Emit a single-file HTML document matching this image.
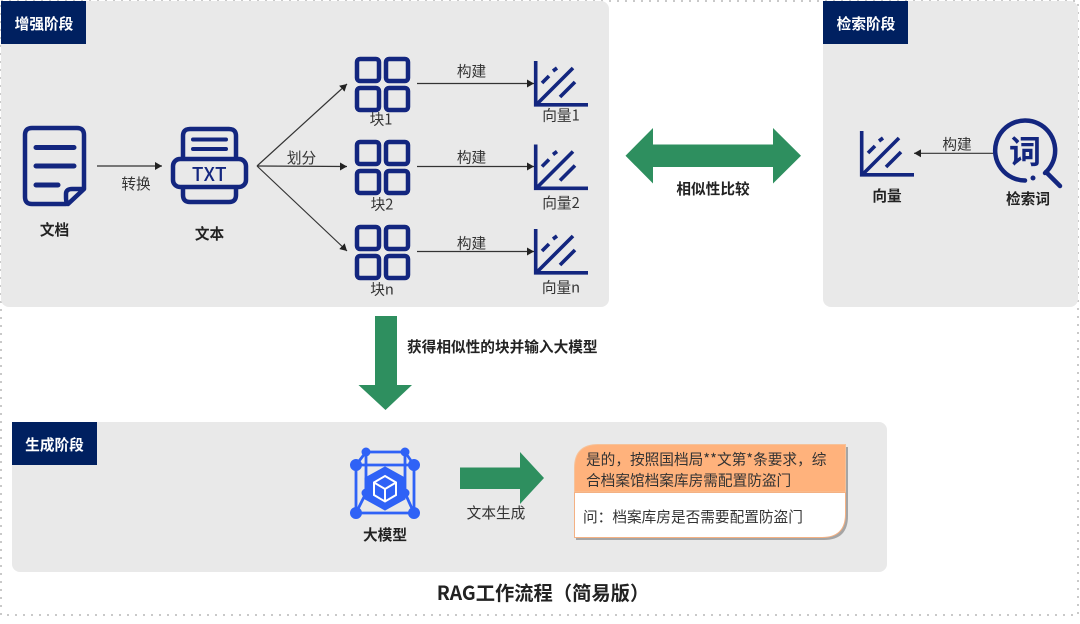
<!DOCTYPE html>
<html lang="zh"><head><meta charset="utf-8"><title>RAG工作流程</title>
<style>
html,body{margin:0;padding:0;background:#fff;width:1080px;height:624px;overflow:hidden}
svg{display:block}
text{font-family:"Noto Sans CJK SC","Liberation Sans",sans-serif;font-size:14.67px;fill:#333;text-anchor:middle}
.b{font-weight:700;fill:#222}
.h{font-weight:700;fill:#fff}
.n{fill:none;stroke:#13267f;stroke-width:4.5;stroke-linejoin:round;stroke-linecap:round}
.l{stroke:#333;stroke-width:1.2;fill:none}
.s{text-anchor:start}
</style></head><body>
<svg width="1080" height="624" viewBox="0 0 1080 624" xmlns="http://www.w3.org/2000/svg">
<defs>
<marker id="a" markerUnits="userSpaceOnUse" markerWidth="8" markerHeight="8" refX="7" refY="4" orient="auto"><path d="M0 0L7 4L0 8z" fill="#222"/></marker>
<g id="grid" class="n" stroke-width="4"><rect x="357" y="59" width="22" height="22" rx="3"/><rect x="386" y="59" width="22" height="22" rx="3"/><rect x="357" y="88" width="22" height="22" rx="3"/><rect x="386" y="88" width="22" height="22" rx="3"/></g>
<g id="vec" fill="none" stroke="#13267f" stroke-width="3.6"><path d="M535.7 61V104.8H588"/><path d="M537 104L573 68M560 97L575 82M542 83L549 76M553 71L557 68"/></g>
</defs>
<rect x="1" y="1" width="1077" height="614" fill="none" stroke="#c9c9c9" stroke-width="2" stroke-dasharray="2 6"/>

<!-- panels -->
<rect x="1" y="1" width="608" height="306" rx="8" fill="#e9e9e9"/>
<rect x="823" y="1" width="255" height="306" rx="8" fill="#e9e9e9"/>
<rect x="12" y="422" width="875" height="150" rx="8" fill="#e9e9e9"/>
<rect x="1" y="1" width="85" height="43" fill="#002060"/>
<rect x="823" y="1" width="85" height="43" fill="#002060"/>
<rect x="12" y="422" width="85" height="43" fill="#002060"/>
<text x="44" y="29" class="h">增强阶段</text>
<text x="866" y="29" class="h">检索阶段</text>
<text x="54.500" y="450" class="h">生成阶段</text>

<!-- document -->
<path class="n" d="M66 204H32Q25 204 25 197V135Q25 128 32 128H77Q84 128 84 135V189L68 204Q66 204 66 197V194Q66 189 72 189H84"/>
<path d="M36 147.500H74M36 166H74M36 185H58" stroke="#13267f" stroke-width="5" stroke-linecap="round" fill="none"/>
<text x="54.500" y="235" class="b">文档</text>

<!-- TXT -->
<path class="n" d="M183 158V136Q183 129 190 129H229Q236 129 236 136V158"/>
<path d="M193 139.500H226M193 149H226" stroke="#13267f" stroke-width="4" stroke-linecap="round"/>
<rect x="173" y="159" width="73" height="28" rx="7" class="n"/>
<path class="n" d="M183 188V195Q183 202 190 202H229Q236 202 236 195V188"/>
<text x="209.500" y="181" style="font-size:19px;font-weight:500;fill:#13267f;letter-spacing:.5px">TXT</text>
<text x="209.500" y="239" class="b">文本</text>

<!-- connectors left -->
<path class="l" d="M97 166H162" marker-end="url(#a)"/>
<text x="136" y="189">转换</text>
<path class="l" d="M257 166L347 84" marker-end="url(#a)"/>
<path class="l" d="M257 166L347 166.500" marker-end="url(#a)"/>
<path class="l" d="M257 166L347 251" marker-end="url(#a)"/>
<text x="301.500" y="163">划分</text>

<!-- blocks -->
<use href="#grid"/>
<use href="#grid" y="83"/>
<use href="#grid" y="168"/>
<text x="381" y="124.500">块1</text>
<text x="382" y="209.500">块2</text>
<text x="382" y="294.500">块n</text>

<path class="l" d="M417 83.500H534" marker-end="url(#a)"/>
<path class="l" d="M417 166.500H534" marker-end="url(#a)"/>
<path class="l" d="M417 251.500H534" marker-end="url(#a)"/>
<text x="471.500" y="76.500">构建</text>
<text x="471.500" y="162.500">构建</text>
<text x="471.500" y="248.500">构建</text>

<use href="#vec"/>
<use href="#vec" y="83.500"/>
<use href="#vec" y="168"/>
<text x="561" y="120.500">向量1</text>
<text x="561" y="208">向量2</text>
<text x="561" y="292.500">向量n</text>

<!-- double arrow -->
<path d="M625.500 155.700L653 128V144.500H773V128L801 155.700L773 183.500V167H653V183.500Z" fill="#2e8f5f"/>
<text x="713" y="194" class="b">相似性比较</text>

<!-- retrieval -->
<use href="#vec" x="326" y="70"/>
<text x="887" y="201" class="b">向量</text>
<path class="l" d="M993 153.300H914" marker-end="url(#a)"/>
<text x="957" y="149.500">构建</text>
<path d="M1025 180.500A30 30 0 1 1 1045 173" fill="none" stroke="#13267f" stroke-width="4.500" stroke-linecap="round"/>
<circle cx="1033" cy="178" r="2.500" fill="#13267f"/>
<path d="M1046 172L1060 186" stroke="#13267f" stroke-width="4.500" stroke-linecap="round"/>
<text x="1025" y="163" style="font-size:32px;font-weight:700;fill:#13267f">词</text>
<text x="1028" y="204" class="b">检索词</text>

<!-- down arrow -->
<path d="M375 316H397V385H412L385.500 410L358.500 385H375Z" fill="#2e8f5f"/>
<text x="407" y="352" class="b s">获得相似性的块并输入大模型</text>

<!-- model icon -->
<g fill="#2f62f6" stroke="#2f62f6">
<path d="M356 465H414V513H356ZM366 452H405M366 452V493H405V452M356 465L366 452M414 465L405 452M356 513L366 493M414 513L405 493" fill="none" stroke-width="2.800"/>
<circle cx="356" cy="465" r="5.500"/><circle cx="414" cy="465" r="5.500"/><circle cx="356" cy="513" r="5.500"/><circle cx="414" cy="513" r="5.500"/>
<circle cx="366" cy="452" r="4"/><circle cx="405" cy="452" r="4"/><circle cx="366" cy="493" r="4"/><circle cx="405" cy="493" r="4"/>
<path d="M385 467L405 478V499L385 510L365 499V478Z" stroke-width="1"/>
</g>
<path d="M385 476L396 482.500V495L385 501.500L374 495V482.500ZM385 489V501M385 489L374 482.500M385 489L396 482.500" fill="none" stroke="#fff" stroke-width="2"/>
<text x="385" y="540" class="b">大模型</text>

<!-- right arrow -->
<path d="M460 467.500H520V452L544 478L520 504V489H460Z" fill="#2e8f5f"/>
<text x="496" y="518">文本生成</text>

<!-- callout -->
<path d="M576 540H824Q848 540 848 516V447H600Q576 447 576 471Z" fill="#a5a5a5"/>
<path d="M574.500 492V468Q574.500 444.500 598 444.500H845.500V492Z" fill="#ffb27c" stroke="#f6c299" stroke-width="1"/>
<path d="M574.500 492.500H845.500V514Q845.500 537.500 822 537.500H574.500Z" fill="#fff" stroke="#f4b183" stroke-width="1"/>
<text x="586" y="464.500" class="s">是的，按照国档局**文第*条要求，综</text>
<text x="586" y="485.500" class="s">合档案馆档案库房需配置防盗门</text>
<text x="583" y="522" class="s">问：档案库房是否需要配置防盗门</text>

<text x="543" y="600" style="font-size:19.300px;font-weight:700;fill:#222">RAG工作流程（简易版）</text>
</svg>
</body></html>
